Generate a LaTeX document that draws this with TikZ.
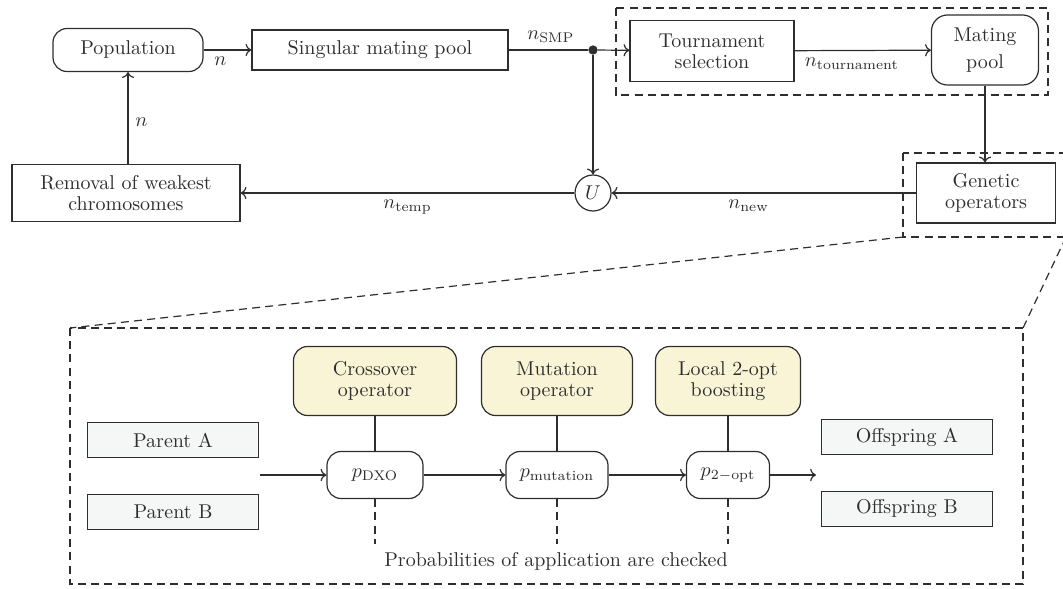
\documentclass[tikz,border=0pt]{standalone}
\usepackage{amsmath}
\usepackage{xcolor}
\usepackage{tikz}
\usetikzlibrary{
	calc,
	arrows,
	arrows.meta,
	shapes,
	positioning,
	fit
	}
\definecolor{trait}{HTML}{2E2E2E}
\definecolor{jaune-op}{HTML}{FAF4D6}
\definecolor{gris-clair}{HTML}{F4F7F6}
\tikzstyle{bloc-std}=[draw,rectangle,align=center,inner sep=0pt,font=\fontsize{10}{10.5}\selectfont]
\tikzstyle{bloc-rond}=[bloc-std,rounded corners=7pt]
\tikzstyle{bloc-op}=[bloc-rond,fill=jaune-op,minimum height=34.5pt]
\tikzstyle{bloc-parent}=[bloc-std,fill=gris-clair,minimum width=85.5pt,minimum height=17.5pt]
\tikzstyle{bloc-proba}=[bloc-rond,fill=white,minimum height=23.5pt]
\tikzstyle{noeud-point}=[draw,fill,circle,inner sep=0pt,minimum size=4pt]
\tikzstyle{tirets}=[dash pattern=on 4pt off 2.6pt]

\begin{document}
\begin{tikzpicture}[x=0.5pt,y=-0.5pt,line width=0.6pt,color=trait]
\useasboundingbox (0,0) rectangle (1063,588);

% boucle principale
\node[bloc-rond, minimum width=75pt, minimum height=21.5pt] (pop) at (128,50) {Population};
\node[bloc-std, minimum width=128pt, minimum height=20pt] (smp) at (380,50) {Singular mating pool};
\node[noeud-point] (jonction) at (593,50) {};
\node[bloc-std, minimum width=82pt, minimum height=30.5pt] (tour) at (712,51) {Tournament\\selection};
\node[bloc-rond, minimum width=53.5pt, minimum height=35pt, rounded corners=8pt] (mpool) at (985,50) {Mating\\[3pt]pool};
\node[bloc-std, minimum width=69.5pt, minimum height=30pt] (gen) at (986,193) {Genetic\\operators};
\node[draw,circle,inner sep=0pt,minimum size=18pt] (union) at (593,193) {$U$};
\node[bloc-std, minimum width=114pt, minimum height=28.5pt] (rem) at (126,193) {Removal of weakest\\chromosomes};

\draw[->] (pop) -- (smp);
\draw (smp) -- (jonction);
\draw[->] (jonction) -- (tour);
\draw[->] (tour) -- (mpool);
\draw[->] (mpool.south) -- (mpool.south |- gen.north);
\draw[->] (jonction) -- (union);
\draw[->] (gen) -- (union);
\draw[->] (union) -- (rem);
\draw[->] (pop.south |- rem.north) -- (pop.south);

\node[below] at ($(pop.east)!0.35!(smp.west)$) {$n$};
\node[right] at ($(pop.south |- rem.north)!0.45!(pop.south)$) {$n$};
\node[above] at ($(smp.east)!0.5!(jonction)$) {$n_{\text{SMP}}$};
\node[below] at ($(tour.east)!0.42!(mpool.west)$) {$n_{\text{tournament}}$};
\node[below] at ($(gen.west)!0.55!(union.east)$) {$n_{\text{new}}$};
\node[below] at ($(union.west)!0.5!(rem.east)$) {$n_{\text{temp}}$};

% cadres en tirets
\coordinate (sel-no) at (616,8);
\coordinate (sel-se) at (1048,95);
\coordinate (gen-no) at (903,153);
\coordinate (gen-se) at (1066,237);
\coordinate (gen-so) at (903,237);
\coordinate (det-no) at (70,328);
\coordinate (det-ne) at (1023,328);
\coordinate (det-se) at (1023,584);
\draw[tirets] (sel-no) rectangle (sel-se);
\draw[tirets] (gen-no) rectangle (gen-se);
\draw[tirets] (det-no) rectangle (det-se);
\draw[tirets] (gen-so) -- (det-no);
\draw[tirets] (gen-se) -- (det-ne);

% detail des operateurs
\node[bloc-op, minimum width=81.5pt] (cross) at (375,381) {Crossover\\operator};
\node[bloc-op, minimum width=75.5pt] (mut) at (557,381) {Mutation\\operator};
\node[bloc-op, minimum width=72.5pt] (boost) at (728,381) {Local 2-opt\\boosting};
\node[bloc-parent] (parA) at (173,440) {Parent A};
\node[bloc-parent] (parB) at (173,512) {Parent B};
\node[bloc-proba, minimum width=48pt] (pdxo) at (375,475) {$p_{\text{DXO}}$};
\node[bloc-proba, minimum width=51pt] (pmut) at (557,475) {$p_{\text{mutation}}$};
\node[bloc-proba, minimum width=41.5pt] (popt) at (728,475) {$p_{2-\text{opt}}$};
\node[bloc-parent] (offA) at (907,437) {Offspring A};
\node[bloc-parent] (offB) at (907,509) {Offspring B};
\coordinate (entree) at (260,475);
\coordinate (sortie) at (816,475);

\draw[->] (entree) -- (pdxo);
\draw[->] (pdxo) -- (pmut);
\draw[->] (pmut) -- (popt);
\draw[->] (popt) -- (sortie);
\foreach \op/\p in {cross/pdxo, mut/pmut, boost/popt} {
	\draw (\op) -- (\p);
	\draw[tirets] (\p.south) -- ++(0,45);
}
\node (texte) at (556,561) {Probabilities of application are checked};
\end{tikzpicture}
\end{document}
